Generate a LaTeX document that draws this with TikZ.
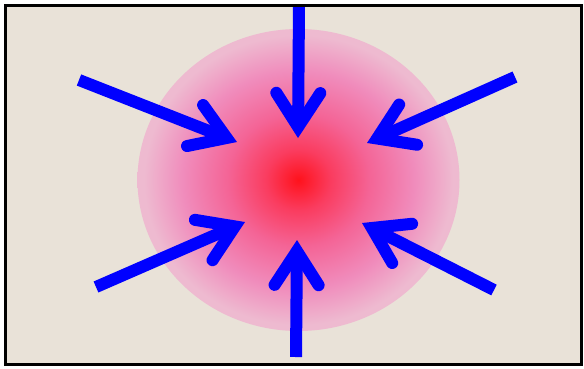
\documentclass[tikz,border=0pt]{standalone}
\usepackage{tikz}
\usetikzlibrary{arrows.meta}
\definecolor{paper}{RGB}{233,226,216}
\definecolor{pushblue}{RGB}{0,0,255}
\definecolor{glowcore}{RGB}{255,18,28}
\definecolor{glowred}{RGB}{250,60,95}
\definecolor{glowmid}{RGB}{244,100,150}
\definecolor{glowpink}{RGB}{240,140,188}
\definecolor{glowedge}{RGB}{238,186,208}
\pgfdeclareradialshading{glow}{\pgfpoint{0bp}{0bp}}{color(0bp)=(glowcore); color(5bp)=(glowred); color(11bp)=(glowmid); color(18bp)=(glowpink); color(24bp)=(glowedge); color(25bp)=(glowedge); color(50bp)=(glowedge)}
\tikzset{
	thick,% the frame and the arrows are drawn in pixel units below
	push/.style={draw=pushblue, line width=12pt, line cap=butt,
		-{Straight Barb[length=34pt, width=44pt, line cap=round, line join=miter]}},
	frame/.style={draw=black, line width=3pt, fill=paper}
}
\begin{document}
\begin{tikzpicture}[x=1pt,y=-1pt]
	\useasboundingbox (0,0) rectangle (584,368);
	\path[fill=white] (0,0) rectangle (584,368);
	\path[fill=paper] (5.5,5.5) rectangle (581,364.5);
	% the glow in the middle
	\shade[shading=glow] (298.5,180) ellipse [x radius=161, y radius=151];
	\coordinate (core) at (298,180);
	% tips round the core
	\coordinate (tipN) at (298,138);
	\coordinate (tipS) at (297,240);
	\coordinate (tipNW) at (237,142);
	\coordinate (tipNE) at (367,143);
	\coordinate (tipSW) at (245,222);
	\coordinate (tipSE) at (362,223);
	% tails
	\coordinate (tailN) at (299,6);
	\coordinate (tailS) at (296,357);
	\coordinate (tailNW) at (79,80);
	\coordinate (tailNE) at (515,77);
	\coordinate (tailSW) at (96,287);
	\coordinate (tailSE) at (494,290);
	\foreach \d in {N,S,NW,NE,SW,SE}
		\draw[push] (tail\d) -- (tip\d);
	\draw[frame, fill=none] (5.5,5.5) rectangle (581,364.5);
\end{tikzpicture}
\end{document}
